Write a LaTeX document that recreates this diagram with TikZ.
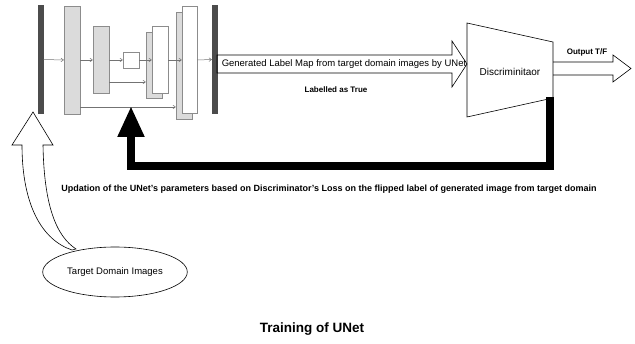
\documentclass[tikz,border=0pt]{standalone}
\usepackage{fontspec}
\setmainfont{Liberation Sans}
\usetikzlibrary{arrows.meta,shapes.geometric}

\begin{document}
\begin{tikzpicture}[x=1pt,y=-1pt,
  bar/.style={fill=black!70,draw=black!70,minimum width=5pt,minimum height=108pt,inner sep=0pt},
  layer/.style={fill=black!14,draw=black!45,line width=0.5pt,inner sep=0pt,minimum width=16pt},
  flow/.style={draw=black!55,line width=0.5pt,-{To[length=3pt,width=4pt]}}]
\useasboundingbox (0,0) rectangle (635,344);
% input and output maps of the UNet
\node[bar] (inmap) at (41,59.5) {};
\node[bar] (outmap) at (214.5,59.5) {};
% encoder and decoder layers
\node[layer,minimum height=108pt] (enc1) at (72,60) {};
\node[layer,minimum height=67pt] (enc2) at (101,60) {};
\node[layer,fill=white,minimum height=16pt] (mid) at (131,60) {};
\node[layer,minimum height=66pt] (dec1back) at (154,65) {};
\node[layer,fill=white,minimum height=67pt] (dec1) at (160,60) {};
\node[layer,minimum height=107pt] (dec2back) at (184,65.5) {};
\node[layer,fill=white,minimum height=107pt,minimum width=15pt] (dec2) at (189.5,60) {};
% forward flow through the layers
\draw[flow] (inmap.east) -- (enc1.west);
\draw[flow] (enc1.east) -- (enc2.west);
\draw[flow] (enc2.east) -- (mid.west);
\draw[flow] (mid.east) -- (dec1.west);
\draw[flow] (dec1.east) -- (dec2.west);
\draw[flow] (dec2.east) -- (outmap.west);
% skip connections
\draw[flow] ([yshift=-22pt]enc2.east) -- ([yshift=-22pt]enc2.east -| dec1back.west);
\draw[flow] ([yshift=-47pt]enc1.east) -- ([yshift=-47pt]enc1.east -| dec2back.west);
% hollow arrow carrying the generated label map
\draw[line width=0.6pt] (217,55) -- (452,55) -- (452,41) -- (467,64) -- (452,87) -- (452,73) -- (217,73) -- cycle;
\node[font=\fontsize{9.5}{10}\selectfont,inner sep=0pt] (genmap) at (344,64) {Generated Label Map from target domain images by UNet};
\node[font=\bfseries\fontsize{8}{9}\selectfont] (truelbl) at (336,90) {Labelled as True};
% the discriminator
\draw[line width=0.6pt] (467,23) -- (553,42) -- (553,98) -- (467,117) -- cycle;
\node[font=\fontsize{10}{11}\selectfont] (disc) at (510,72) {Discriminitaor};
\coordinate (dcorner) at (550,97);
% its output
\draw[line width=0.6pt] (553,62) -- (613,62) -- (613,55) -- (631,68.5) -- (613,82) -- (613,75) -- (553,75);
\node[font=\bfseries\fontsize{8}{9}\selectfont] (outtf) at (587,52) {Output T/F};
% loss fed back to the UNet
\coordinate (fbright) at (550,166);
\coordinate (fbleft) at (131,166);
\coordinate (fbtip) at (131,106);
\draw[line width=8pt,-{Triangle[length=31pt,width=25pt]}] (dcorner) -- (fbright) -- (fbleft) -- (fbtip);
\node[font=\bfseries\fontsize{9}{10}\selectfont] (update) at (329,189) {Updation of the UNet's parameters based on Discriminator's Loss on the flipped label of generated image from target domain};
% target domain images and their arrow
\node[ellipse,draw,line width=0.6pt,minimum width=142pt,minimum height=50pt,font=\fontsize{9.5}{10}\selectfont] (target) at (115,272) {Target Domain Images};
\draw[line width=0.6pt,fill=white] (22,145) -- (12,145) -- (33,112) -- (53,145) -- (43,145) .. controls (44,205) and (56,236) .. (76,249) -- (72,250) .. controls (42,240) and (22,205) .. (22,145) -- cycle;
% caption
\node[font=\bfseries\fontsize{13.5}{15}\selectfont] (caption) at (312,329) {Training of UNet};
\end{tikzpicture}
\end{document}
